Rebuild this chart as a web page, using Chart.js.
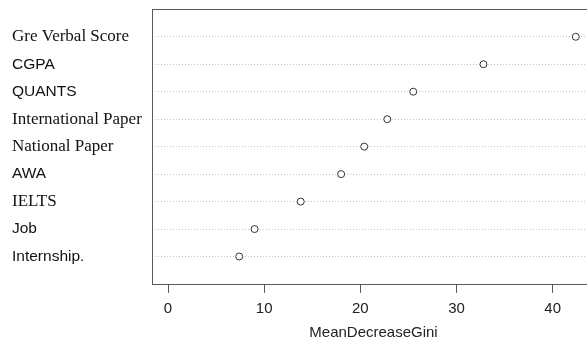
<!DOCTYPE html>
<html>
<head>
<meta charset="utf-8">
<script src="https://cdn.jsdelivr.net/npm/chart.js@4/dist/chart.umd.min.js"></script>
<style>
  html, body { margin: 0; padding: 0; background: #fff; overflow: hidden; }
  #wrap { width: 587px; height: 340px; overflow: hidden; }
</style>
</head>
<body>
<div id="wrap"><canvas id="gini-chart" width="600" height="340"></canvas></div>
<script>
// variable importance, top to bottom
const features = ['Gre Verbal Score', 'CGPA', 'QUANTS', 'International Paper', 'National Paper', 'AWA', 'IELTS', 'Job', 'Internship.'];
const giniValues = [42.4, 32.8, 25.5, 22.8, 20.4, 18.0, 13.8, 9.0, 7.4];
const xTicks = [0, 10, 20, 30, 40];

// labels that were typeset in a serif face
const serifNames = ['Gre Verbal Score', 'International Paper', 'National Paper', 'IELTS'];

const giniChart = document.getElementById('gini-chart');

const boxPlugin = {
    id: 'box',
    afterDraw(chart) {
        const a = chart.chartArea;
        const ctx = chart.ctx;
        ctx.save();
        ctx.strokeStyle = '#5a5a5a';
        ctx.lineWidth = 1;
        ctx.strokeRect(Math.round(a.left) + 0.5, Math.round(a.top) + 0.5,
            Math.round(a.right - a.left), Math.round(a.bottom - a.top));
        ctx.restore();
    }
};

new Chart(giniChart, {
    type: 'scatter',
    data: {
        datasets: [{
            data: giniValues.map((v, i) => ({ x: v, y: i + 1 })),
            pointRadius: 3.5,
            pointBorderWidth: 1,
            borderColor: '#333',
            backgroundColor: '#fff',
            showLine: false
        }]
    },
    options: {
        responsive: false,
        animation: false,
        layout: { padding: { left: 12, top: 9, right: 2, bottom: 0 } },
        plugins: { legend: { display: false }, tooltip: { enabled: false } },
        scales: {
            x: {
                type: 'linear',
                min: -1.667,
                max: 44.4,
                afterBuildTicks: s => { s.ticks = xTicks.map(v => ({ value: v })); },
                afterFit: s => { s.height = 56; },
                border: { display: false },
                grid: { drawOnChartArea: false, drawTicks: true, tickLength: 9, color: '#5a5a5a' },
                ticks: {
                    padding: 7,
                    color: '#222',
                    font: { family: 'Liberation Sans', size: 15 },
                    maxRotation: 0
                },
                title: {
                    display: true,
                    text: 'MeanDecreaseGini',
                    color: '#222',
                    font: { family: 'Liberation Sans', size: 15 },
                    padding: { top: 0, bottom: -2 }
                }
            },
            y: {
                type: 'linear',
                min: 0,
                max: 10,
                reverse: true,
                afterBuildTicks: s => { s.ticks = features.map((f, i) => ({ value: i + 1 })); },
                afterFit: s => { s.width = 140; },
                border: { display: false, dash: [1, 2] },
                grid: { drawTicks: false, color: '#c4c4c4' },
                ticks: {
                    crossAlign: 'far',
                    padding: 0,
                    autoSkip: false,
                    color: '#111',
                    callback: v => features[v - 1],
                    font: ctx => {
                        const name = features[ctx.index];
                        return serifNames.includes(name)
                            ? { family: 'Liberation Serif', size: 17 }
                            : { family: 'Liberation Sans', size: 15.5 };
                    }
                }
            }
        }
    },
    plugins: [boxPlugin]
});
</script>
</body>
</html>
